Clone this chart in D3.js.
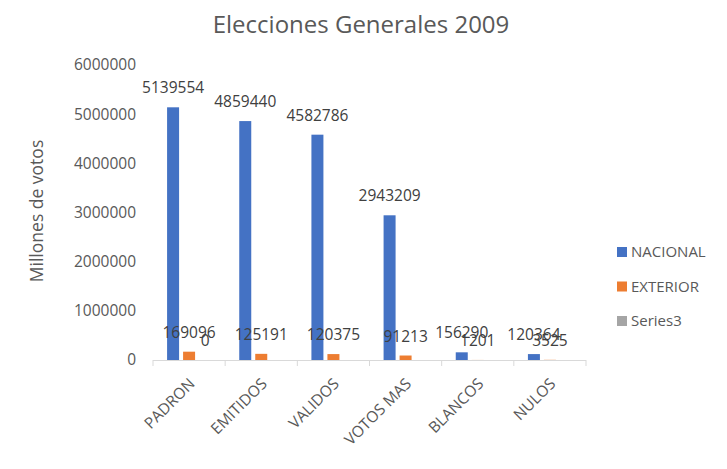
<!DOCTYPE html>
<html><head><meta charset="utf-8">
<script src="https://cdn.jsdelivr.net/npm/d3@7/dist/d3.min.js"></script>
<style>body{margin:0;background:#fff}svg{display:block}text{font-family:"Open Sans",sans-serif}</style>
</head><body>
<svg id="chart" width="727" height="469"></svg>
<script>
const categories = ["PADRON","EMITIDOS","VALIDOS","VOTOS MAS","BLANCOS","NULOS"];
const seriesNames = ["NACIONAL","EXTERIOR","Series3"];
const nacional = [5139554, 4859440, 4582786, 2943209, 156290, 120364];
const exterior = [169096, 125191, 120375, 91213, 1201, 3525];
const series3 = [0, null, null, null, null, null];
const yTicks = [0, 1000000, 2000000, 3000000, 4000000, 5000000, 6000000];
const colors = ["#4472C4", "#ED7D31", "#A5A5A5"];
const title = "Elecciones Generales 2009";
const yTitle = "Millones de votos";

const seriesValues = [nacional, exterior, series3];
const svg = d3.select("#chart");
const pLeft = 153, pRight = 586, pTop = 65, pBottom = 360;

const x0 = d3.scaleBand().domain(categories).range([pLeft, pRight]).padding(0);
const groupW = 44;
const x1 = d3.scaleBand().domain(seriesNames).range([0, groupW]).paddingInner(0.25).paddingOuter(0);
const y = d3.scaleLinear().domain([0, 6000000]).range([pBottom, pTop]);

// title
svg.append("text").attr("x", 361).attr("y", 33).attr("text-anchor", "middle")
  .attr("font-size", 24).attr("fill", "#595959").text(title);

// y axis title
svg.append("text").attr("transform", "translate(43,211) rotate(-90)")
  .attr("text-anchor", "middle").attr("font-size", 17.5).attr("fill", "#595959").text(yTitle);

// y axis tick labels
const yAxis = d3.axisLeft(y).tickValues(yTicks).tickSize(0).tickPadding(17).tickFormat(d3.format("d"));
const gy = svg.append("g").attr("transform", `translate(${pLeft},0)`).call(yAxis);
gy.select(".domain").remove();
gy.selectAll("text").attr("font-size", 15.5).attr("fill", "#595959").attr("font-family", "Open Sans, sans-serif");

// bars
const groups = svg.append("g").selectAll("g").data(categories).join("g")
  .attr("transform", d => `translate(${x0(d) + (x0.bandwidth() - groupW) / 2},0)`);

seriesNames.forEach((s, si) => {
  groups.each(function(c, ci) {
    const v = seriesValues[si][ci];
    if (v === null) return;
    d3.select(this).append("rect").attr("x", x1(s)).attr("y", y(v)).attr("width", x1.bandwidth())
      .attr("height", pBottom - y(v)).attr("fill", colors[si]);
  });
});

// x axis
const xAxis = d3.axisBottom(x0).tickSize(0).tickFormat("");
const gx = svg.append("g").attr("transform", `translate(0,${pBottom})`).call(xAxis);
gx.select(".domain").attr("stroke", "#D9D9D9").attr("stroke-width", 1).attr("d", `M${pLeft},0.5H${pRight}`);
const bounds = [pLeft].concat(categories.map(c => x0(c) + x0.bandwidth()));
gx.selectAll(".bnd").data(bounds).join("line").attr("class", "bnd")
  .attr("x1", d => d).attr("x2", d => d).attr("y1", 0).attr("y2", 6)
  .attr("stroke", "#D9D9D9");
svg.append("g").selectAll("text").data(categories).join("text")
  .attr("transform", d => `translate(${x0(d) + x0.bandwidth() / 2 - 1},${pBottom + 17}) rotate(-45)`)
  .attr("text-anchor", "end").attr("dy", "0.7em").attr("font-size", 15.5).attr("fill", "#595959")
  .text(d => d);

// data labels
seriesNames.forEach((s, si) => {
  groups.each(function(c, ci) {
    const v = seriesValues[si][ci];
    if (v === null) return;
    d3.select(this).append("text").attr("x", x1(s) + x1.bandwidth() / 2).attr("y", y(v) - 14)
      .attr("text-anchor", "middle").attr("font-size", 15.5).attr("fill", "#404040").text(v);
  });
});

// legend
const lg = svg.append("g").selectAll("g").data(seriesNames).join("g")
  .attr("transform", (d, i) => `translate(617,${252 + i * 34.5})`);
lg.append("rect").attr("x", 0).attr("y", -5).attr("width", 10).attr("height", 10).attr("fill", (d, i) => colors[i]);
lg.append("text").attr("x", 14).attr("y", 0).attr("dy", "0.35em").attr("font-size", 15)
  .attr("fill", "#595959").text(d => d);
</script>
</body></html>
